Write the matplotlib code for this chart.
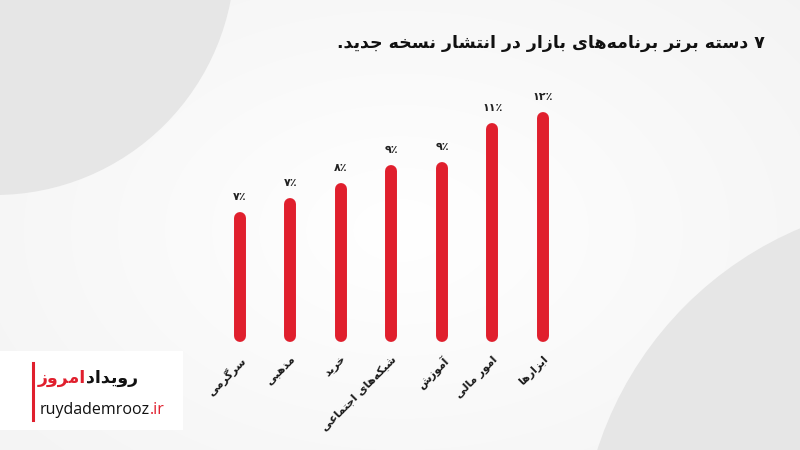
"""Top 7 Bazaar app categories - rounded bar chart"""

import numpy as np
import matplotlib.pyplot as plt
from matplotlib.patches import Circle, Rectangle

# data
categories = ['سرگرمی', 'مذهبی', 'خرید', 'شبکه‌های اجتماعی', 'آموزش', 'امور مالی', 'ابزارها']
values = [6.5, 7.25, 8.1, 9.1, 9.25, 11.4, 12.0]
value_labels = ['۷٪', '۷٪', '۸٪', '۹٪', '۹٪', '۱۱٪', '۱۲٪']
title = '۷ دسته برتر برنامه‌های بازار در انتشار نسخه جدید.'
logo_fa = ['رویداد', 'امروز']
logo_en = ['ruydademrooz', '.ir']

RED = '#e01f2d'

# arabic presentation forms: isolated, final, initial, medial
FORMS = {
    'ا': ('\uFE8D', '\uFE8E', None, None),
    'آ': ('\uFE81', '\uFE82', None, None),
    'ب': ('\uFE8F', '\uFE90', '\uFE91', '\uFE92'),
    'پ': ('\uFB56', '\uFB57', '\uFB58', '\uFB59'),
    'ت': ('\uFE95', '\uFE96', '\uFE97', '\uFE98'),
    'ج': ('\uFE9D', '\uFE9E', '\uFE9F', '\uFEA0'),
    'خ': ('\uFEA5', '\uFEA6', '\uFEA7', '\uFEA8'),
    'د': ('\uFEA9', '\uFEAA', None, None),
    'ذ': ('\uFEAB', '\uFEAC', None, None),
    'ر': ('\uFEAD', '\uFEAE', None, None),
    'ز': ('\uFEAF', '\uFEB0', None, None),
    'س': ('\uFEB1', '\uFEB2', '\uFEB3', '\uFEB4'),
    'ش': ('\uFEB5', '\uFEB6', '\uFEB7', '\uFEB8'),
    'ع': ('\uFEC9', '\uFECA', '\uFECB', '\uFECC'),
    'ک': ('\uFB8E', '\uFB8F', '\uFB90', '\uFB91'),
    'گ': ('\uFB92', '\uFB93', '\uFB94', '\uFB95'),
    'ل': ('\uFEDD', '\uFEDE', '\uFEDF', '\uFEE0'),
    'م': ('\uFEE1', '\uFEE2', '\uFEE3', '\uFEE4'),
    'ن': ('\uFEE5', '\uFEE6', '\uFEE7', '\uFEE8'),
    'ه': ('\uFEE9', '\uFEEA', '\uFEEB', '\uFEEC'),
    'و': ('\uFEED', '\uFEEE', None, None),
    'ی': ('\uFBFC', '\uFBFD', '\uFBFE', '\uFBFF'),
}


def shape(s):
    out = []
    for i, c in enumerate(s):
        if c not in FORMS:
            out.append('' if c == '\u200c' else c)
            continue
        prev = s[i - 1] if i > 0 else None
        nxt = s[i + 1] if i + 1 < len(s) else None
        join_prev = prev in FORMS and FORMS[prev][2] is not None
        join_next = FORMS[c][2] is not None and nxt in FORMS
        iso, fin, ini, med = FORMS[c]
        if join_prev and join_next:
            out.append(med)
        elif join_prev:
            out.append(fin)
        elif join_next:
            out.append(ini)
        else:
            out.append(iso)
    return ''.join(reversed(out))


plt.rcParams['font.family'] = ['DejaVu Sans']

fig = plt.figure(figsize=(8, 4.5), dpi=100)
renderer = fig.canvas.get_renderer()

# background (pixel coords)
bg = fig.add_axes([0, 0, 1, 1])
bg.set_xlim(0, 800)
bg.set_ylim(450, 0)
bg.axis('off')
yy, xx = np.mgrid[0:450, 0:800]
dist = np.sqrt(((xx - 400) / 420.0) ** 2 + ((yy - 230) / 280.0) ** 2)
shade = np.clip(1.0 - 0.035 * dist, 0.94, 1.0)
bg.imshow(np.dstack([shade] * 3), extent=(0, 800, 450, 0), zorder=0)
bg.add_patch(Circle((-5, -45), 240, color='#e6e6e6', lw=0, zorder=1))
bg.add_patch(Circle((940, 560), 360, color='#e6e6e6', lw=0, zorder=1))

# title
bg.text(765, 43, shape(title), ha='right', va='center', fontsize=12.5,
        fontweight='bold', color='#111111', zorder=3)

# logo box
bg.add_patch(Rectangle((0, 351), 183, 79, color='white', lw=0, zorder=2))
bg.plot([33, 33], [363, 420], color=RED, lw=2.2, zorder=3)
t1 = bg.text(138, 378, shape(logo_fa[0]), ha='right', va='center', fontsize=12.5,
             fontweight='bold', color='#111111', zorder=3)
w1 = t1.get_window_extent(renderer).width
bg.text(138 - w1, 378, shape(logo_fa[1]), ha='right', va='center', fontsize=12.5,
        fontweight='bold', color=RED, zorder=3)
t2 = bg.text(40, 410, logo_en[0], ha='left', va='center', fontsize=11.5,
             family='Open Sans', color='#111111', zorder=3)
w2 = t2.get_window_extent(renderer).width
bg.text(40 + w2, 410, logo_en[1], ha='left', va='center', fontsize=11.5,
        family='Open Sans', color=RED, zorder=3)

# chart
ax = fig.add_axes([0.2684, 0.2533, 0.4419, 0.5653])
ax.patch.set_alpha(0)
x = np.arange(len(categories))
ax.vlines(x, 0, values, color=RED, lw=8.6, capstyle='round', zorder=3,
          clip_on=False)
for xi, v, lab in zip(x, values, value_labels):
    ax.annotate(lab, (xi, v), xytext=(0, 21), textcoords='offset pixels',
                ha='center', va='center', fontsize=8, fontweight='bold',
                color='#222222')
ax.set_xlim(-0.5, len(categories) - 0.5)
ax.set_ylim(0, 14)
ax.set_yticks([])
ax.set_xticks(x)
ax.set_xticklabels([shape(c) for c in categories], rotation=45, ha='right',
                   rotation_mode='anchor', fontsize=8, fontweight='bold',
                   color='#1a1a1a')
ax.tick_params(axis='x', length=0, pad=13)
for s in ax.spines.values():
    s.set_visible(False)

fig.savefig('out.png', dpi=100)
